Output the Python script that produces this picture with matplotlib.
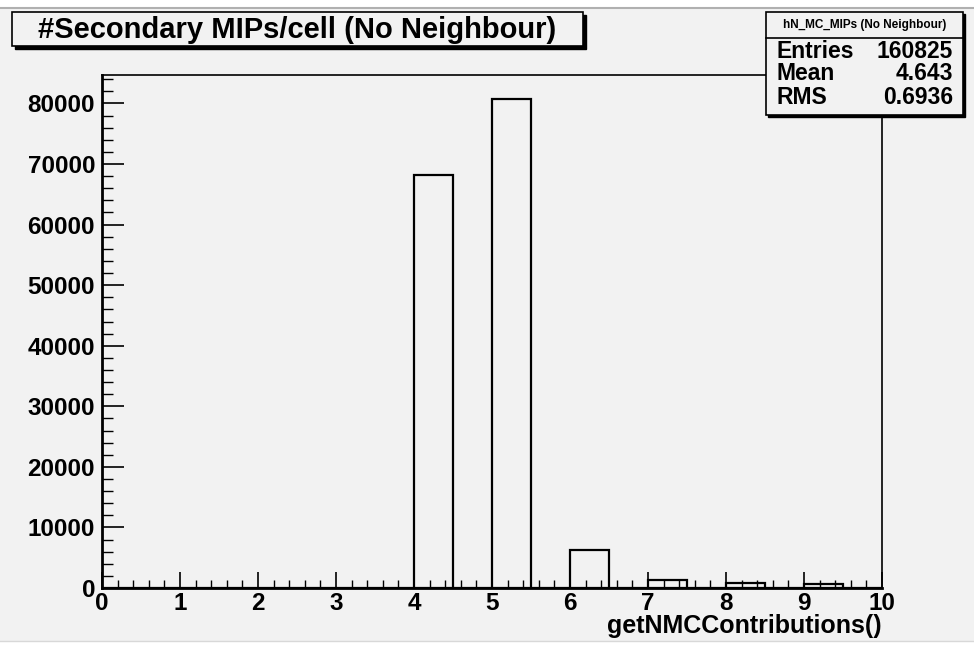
import matplotlib
matplotlib.use("Agg")
import matplotlib.pyplot as plt
from matplotlib.patches import Rectangle
from matplotlib.lines import Line2D

# ---- data ----
bin_edges_lo = [i * 0.5 for i in range(20)]
bin_width = 0.5
counts = [0, 0, 0, 0, 0, 0, 0, 0, 68200, 0,
          80800, 0, 6250, 0, 1300, 0, 850, 0, 650, 0]
title = "#Secondary MIPs/cell (No Neighbour)"
stats_name = "hN_MC_MIPs (No Neighbour)"
stats_labels = ["Entries", "Mean", "RMS"]
stats_values = ["160825", "4.643", "0.6936"]
xlabel = "getNMCContributions()"
xticks = list(range(0, 11))
yticks = list(range(0, 90000, 10000))

W, H = 974, 646
fig = plt.figure(figsize=(W / 100, H / 100), dpi=100)
bg = "#f2f2f2"
fig.patch.set_facecolor(bg)

def fx(px):
    return px / W

def fy(py):
    return 1 - py / H

FONT = ["Liberation Sans", "DejaVu Sans"]

# outer screenshot borders
fig.add_artist(Rectangle((0, fy(8)), 1, 8 / H, transform=fig.transFigure,
                         facecolor="white", edgecolor="none"))
fig.add_artist(Line2D([0, 1], [fy(8), fy(8)], transform=fig.transFigure,
                      color="#b0b0b0", lw=1.5))
fig.add_artist(Rectangle((0, 0), 1, 5 / H, transform=fig.transFigure,
                         facecolor="white", edgecolor="none"))
fig.add_artist(Line2D([0, 1], [fy(641), fy(641)], transform=fig.transFigure,
                      color="#d8d8d8", lw=1.0))

ax = fig.add_axes([fx(102), fy(588), fx(882) - fx(102), fy(75) - fy(588)])
ax.set_facecolor(bg)
ax.bar(bin_edges_lo, counts, width=bin_width, align="edge", fill=False,
       edgecolor="black", linewidth=1.6)
ax.set_xlim(0, 10)
ax.set_ylim(0, 84700)

ax.set_xticks(xticks)
ax.set_xticklabels([str(t) for t in xticks])
ax.set_xticks([i * 0.2 for i in range(51)], minor=True)
ax.set_yticks(yticks)
ax.set_yticklabels([str(t) for t in yticks])
ax.set_yticks(list(range(0, 86000, 2000)), minor=True)

ax.tick_params(axis="x", which="major", direction="in", length=11.5, width=1.2,
               pad=3, labelsize=17.5)
ax.tick_params(axis="x", which="minor", direction="in", length=6, width=1.0)
ax.tick_params(axis="y", which="major", direction="in", length=16, width=1.2,
               pad=5, labelsize=17.5)
ax.tick_params(axis="y", which="minor", direction="in", length=8, width=1.0)
ax.tick_params(top=False, right=False)
for lab in ax.get_xticklabels() + ax.get_yticklabels():
    lab.set_fontweight("bold")
    lab.set_family(FONT)
for sp in ax.spines.values():
    sp.set_linewidth(1.2)
ax.spines["bottom"].set_linewidth(2.0)
ax.spines["left"].set_linewidth(2.0)

fig.text(fx(882), fy(626), xlabel, ha="right", va="center", fontsize=18,
         fontweight="bold", family=FONT)

# title box with shadow
tx0, ty0, tx1, ty1 = 12, 12, 583, 46
fig.add_artist(Rectangle((fx(tx0 + 3), fy(ty1 + 3)), fx(tx1 - tx0), (ty1 - ty0) / H,
                         transform=fig.transFigure, facecolor="black",
                         edgecolor="black", lw=1))
fig.add_artist(Rectangle((fx(tx0), fy(ty1)), fx(tx1 - tx0), (ty1 - ty0) / H,
                         transform=fig.transFigure, facecolor=bg,
                         edgecolor="black", lw=1.2))
fig.text(fx(297), fy(30), title, ha="center", va="center", fontsize=21,
         fontweight="bold", family=FONT)

# stats box
sx0, sy0, sx1, sy1 = 766, 12, 963, 115
hy = 38
fig.add_artist(Rectangle((fx(sx0 + 2), fy(sy1 + 2)), fx(sx1 - sx0), (sy1 - sy0) / H,
                         transform=fig.transFigure, facecolor="black",
                         edgecolor="black", lw=1))
fig.add_artist(Rectangle((fx(sx0), fy(sy1)), fx(sx1 - sx0), (sy1 - sy0) / H,
                         transform=fig.transFigure, facecolor=bg,
                         edgecolor="black", lw=1.2))
fig.add_artist(Line2D([fx(sx0), fx(sx1)], [fy(hy), fy(hy)],
                      transform=fig.transFigure, color="black", lw=1.2))
fig.text(fx((sx0 + sx1) / 2), fy((sy0 + hy) / 2), stats_name, ha="center",
         va="center", fontsize=8.5, fontweight="bold", family=FONT)
rows_y = [52, 74, 97]
for lab, val, ry in zip(stats_labels, stats_values, rows_y):
    fig.text(fx(776), fy(ry), lab, ha="left", va="center", fontsize=16.5,
             fontweight="bold", family=FONT)
    fig.text(fx(953), fy(ry), val, ha="right", va="center", fontsize=16.5,
             fontweight="bold", family=FONT)

fig.savefig("out.png", dpi=100, facecolor=fig.get_facecolor())
